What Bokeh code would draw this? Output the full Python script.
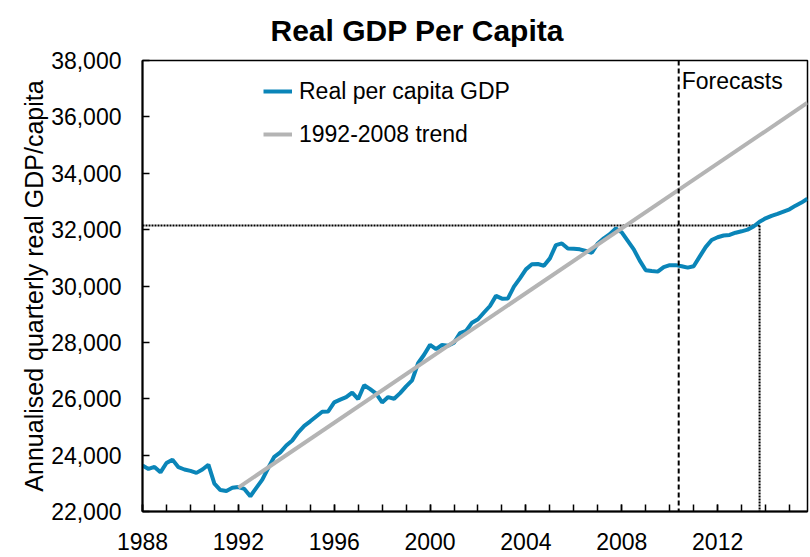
from bokeh.plotting import figure
from bokeh.models import (Range1d, FixedTicker, NumeralTickFormatter, Legend,
                          LegendItem, Label, Span, ColumnDataSource)
from bokeh.embed import file_html
from bokeh.resources import INLINE

FONT = "Liberation Sans"

# Quarterly real per capita GDP, 1988 Q1 .. 2015 Q4 (forecasts from 2010 H2)
gdp_values = [
    23630, 23510, 23580, 23390,   # 1988
    23720, 23840, 23570, 23490,   # 1989
    23440, 23370, 23490, 23660,   # 1990
    22990, 22760, 22730, 22840,   # 1991
    22870, 22800, 22540, 22840,   # 1992
    23130, 23550, 23940, 24100,   # 1993
    24340, 24520, 24810, 25040,   # 1994
    25200, 25370, 25540, 25550,   # 1995
    25870, 25970, 26060, 26220,   # 1996
    25990, 26480, 26340, 26180,   # 1997
    25870, 26060, 26000, 26200,   # 1998
    26440, 26650, 27260, 27560,   # 1999
    27910, 27760, 27910, 27880,   # 2000
    27990, 28330, 28410, 28700,   # 2001
    28820, 29060, 29290, 29650,   # 2002
    29550, 29560, 29980, 30270,   # 2003
    30590, 30770, 30780, 30720,   # 2004
    30980, 31450, 31510, 31330,   # 2005
    31320, 31300, 31240, 31180,   # 2006
    31510, 31690, 31840, 32040,   # 2007
    31900, 31600, 31300, 30900,   # 2008
    30560, 30530, 30510, 30670,   # 2009
    30740, 30740, 30700, 30650,   # 2010
    30700, 31040, 31380, 31630,   # 2011
    31730, 31790, 31810, 31890,   # 2012
    31940, 32000, 32110, 32280,   # 2013
    32400, 32490, 32560, 32640,   # 2014
    32720, 32850, 32960, 33100,   # 2015
]
quarters = [1988 + i / 4 for i in range(len(gdp_values))]

trend_years = [1992.0, 2015.75]
trend_values = [22850, 36500]

forecast_start = 2010.375
marker_year = 2013.75
marker_value = 32150

year_ticks = [1988, 1992, 1996, 2000, 2004, 2008, 2012]
year_minor = list(range(1988, 2016))
y_ticks = [22000, 24000, 26000, 28000, 30000, 32000, 34000, 36000, 38000]

x_start, x_end = 1988, 2015.75
y_start, y_end = 22000, 38000

p = figure(width=810, height=557,
           x_range=Range1d(x_start, x_end), y_range=Range1d(y_start, y_end),
           output_backend="svg", toolbar_location=None,
           min_border_left=142, min_border_right=3,
           min_border_top=60, min_border_bottom=46)

p.title.text = "Real GDP Per Capita"
p.title.align = "left"
p.title.vertical_align = "top"
p.title.offset = 128
p.title.standoff = 24
p.title.text_font = FONT
p.title.text_font_size = "30px"
p.title.text_font_style = "bold"
p.title.text_color = "black"

p.xgrid.visible = False
p.ygrid.visible = False
p.outline_line_color = "black"
p.outline_line_width = 1.5
p.background_fill_color = "white"
p.border_fill_color = "white"

# axes
p.xaxis.ticker = FixedTicker(ticks=year_ticks, minor_ticks=year_minor)
p.yaxis.ticker = FixedTicker(ticks=y_ticks)
p.yaxis.formatter = NumeralTickFormatter(format="0,0")
for ax in (p.xaxis, p.yaxis):
    ax.axis_line_color = "black"
    ax.axis_line_width = 2
    ax.major_tick_in = 7
    ax.major_tick_out = 0
    ax.major_tick_line_color = "black"
    ax.major_tick_line_width = 1.5
    ax.major_label_text_font = FONT
    ax.major_label_text_font_size = "23px"
    ax.major_label_text_color = "black"
p.xaxis.minor_tick_in = 7
p.xaxis.minor_tick_out = 0
p.xaxis.minor_tick_line_color = "black"
p.xaxis.minor_tick_line_width = 1.5
p.yaxis.minor_tick_line_color = None
p.xaxis.major_label_standoff = 21
p.yaxis.major_label_standoff = 21
p.yaxis.axis_label = "Annualised quarterly real GDP/capita"
p.yaxis.axis_label_text_font = FONT
p.yaxis.axis_label_text_font_size = "25px"
p.yaxis.axis_label_text_font_style = "normal"
p.yaxis.axis_label_text_color = "black"
p.yaxis.axis_label_standoff = 0

# reference lines
p.add_layout(Span(location=forecast_start, dimension="height",
                  line_color="black", line_width=2, line_dash="5 3"))
marker_src = ColumnDataSource(dict(
    x0=[x_start, marker_year], y0=[marker_value, marker_value],
    x1=[marker_year, marker_year], y1=[marker_value, y_start]))
p.segment(x0="x0", y0="y0", x1="x1", y1="y1", source=marker_src,
          line_color="black", line_width=2, line_dash="2 1")

# series
r_gdp = p.line(quarters, gdp_values, line_color="#0A85B8", line_width=4)
r_trend = p.line(trend_years, trend_values, line_color="#B4B4B4", line_width=4)

p.add_layout(Label(x=forecast_start, y=y_end, x_offset=3, y_offset=-7,
                   text="Forecasts", text_baseline="top", text_align="left",
                   text_font=FONT, text_font_size="23px", text_color="black"))

legend = Legend(items=[LegendItem(label="Real per capita GDP", renderers=[r_gdp]),
                       LegendItem(label="1992-2008 trend", renderers=[r_trend])],
                location=(121, 362), orientation="vertical",
                border_line_color=None, background_fill_alpha=0,
                padding=0, margin=0, spacing=13,
                glyph_width=29, glyph_height=30, label_height=30,
                label_standoff=7, label_text_font=FONT,
                label_text_font_size="23px", label_text_color="black")
p.add_layout(legend)

open("out.html", "w").write(file_html(p, INLINE))
